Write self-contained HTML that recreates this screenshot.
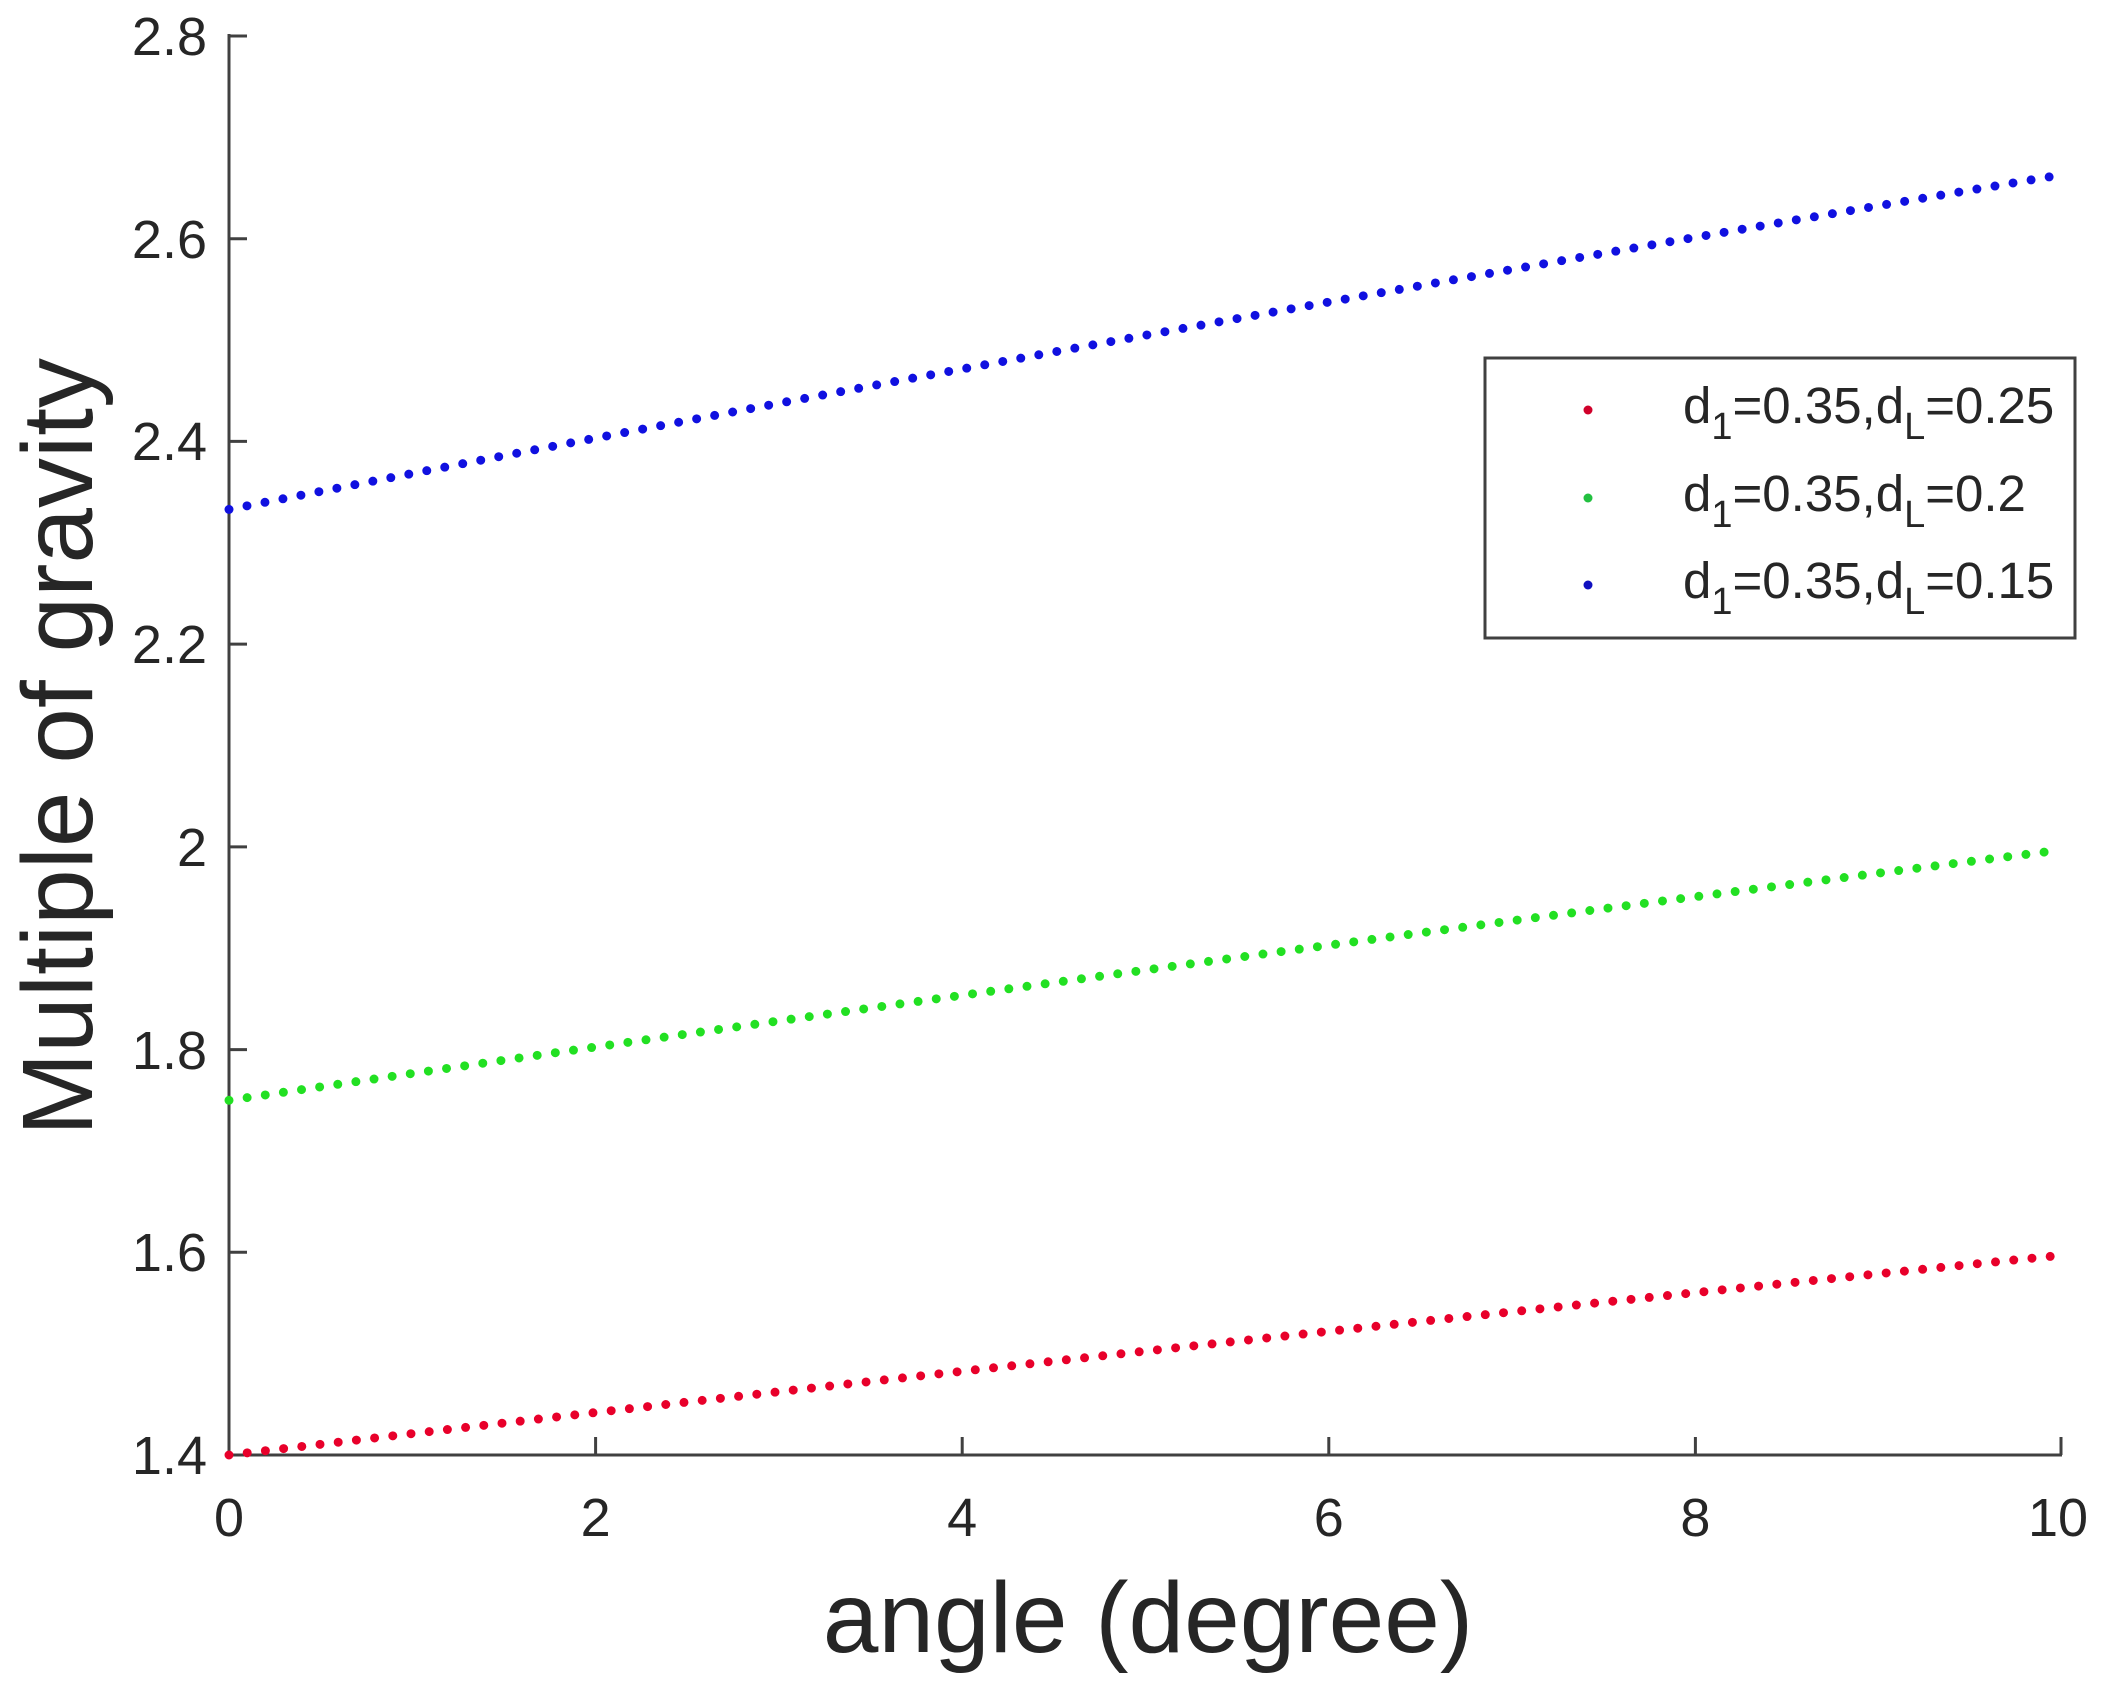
<!DOCTYPE html>
<html><head><meta charset="utf-8"><style>
html,body{margin:0;padding:0;background:#fff;}
svg{display:block;}
text{font-family:"Liberation Sans",Arial,sans-serif;fill:#262626;}
</style></head><body>
<svg width="2103" height="1682" viewBox="0 0 2103 1682" xmlns="http://www.w3.org/2000/svg">
<rect width="2103" height="1682" fill="#fff"/>
<g stroke="#404040" stroke-width="3" fill="none">
<line x1="229" y1="34" x2="229" y2="1456"/>
<line x1="228" y1="1455" x2="2062" y2="1455"/>
<line x1="229" y1="36" x2="247" y2="36"/>
<line x1="229" y1="238.7" x2="247" y2="238.7"/>
<line x1="229" y1="441.4" x2="247" y2="441.4"/>
<line x1="229" y1="644.1" x2="247" y2="644.1"/>
<line x1="229" y1="846.9" x2="247" y2="846.9"/>
<line x1="229" y1="1049.6" x2="247" y2="1049.6"/>
<line x1="229" y1="1252.3" x2="247" y2="1252.3"/>
<line x1="595.6" y1="1455" x2="595.6" y2="1437"/>
<line x1="962.2" y1="1455" x2="962.2" y2="1437"/>
<line x1="1328.8" y1="1455" x2="1328.8" y2="1437"/>
<line x1="1695.4" y1="1455" x2="1695.4" y2="1437"/>
<line x1="2061" y1="1455" x2="2061" y2="1437"/>
</g>
<g font-size="54" text-anchor="end">
<text x="207" y="55">2.8</text>
<text x="207" y="258">2.6</text>
<text x="207" y="460">2.4</text>
<text x="207" y="663">2.2</text>
<text x="207" y="866">2</text>
<text x="207" y="1069">1.8</text>
<text x="207" y="1271">1.6</text>
<text x="207" y="1474">1.4</text>
</g>
<g font-size="54" text-anchor="middle">
<text x="229" y="1536">0</text>
<text x="595.6" y="1536">2</text>
<text x="962.2" y="1536">4</text>
<text x="1328.8" y="1536">6</text>
<text x="1695.4" y="1536">8</text>
<text x="2058" y="1536">10</text>
</g>
<text x="1148" y="1652" font-size="100" text-anchor="middle">angle (degree)</text>
<text transform="translate(92,747) rotate(-90)" font-size="100" text-anchor="middle">Multiple of gravity</text>
<g fill="none" stroke-width="9" stroke-linecap="round" stroke-dasharray="0 18.32">
<path d="M229,1455 Q1145,1347.2 2061,1255.3" stroke="#e8002a"/>
<path d="M229,1100.3 Q1145,965 2061,850" stroke="#22e022"/>
<path d="M229,509.4 Q1145,328.5 2061,174.9" stroke="#1010e0"/>
</g>
<rect x="1485" y="358" width="590" height="280" fill="#fff" stroke="#404040" stroke-width="3"/>
<circle cx="1588" cy="410" r="4.5" fill="#d0002a"/>
<circle cx="1588" cy="498" r="4.5" fill="#22c040"/>
<circle cx="1588" cy="585" r="4.5" fill="#1010c0"/>
<g font-size="51">
<text x="1683" y="423">d<tspan font-size="38" dy="16">1</tspan><tspan dy="-16">=0.35,d</tspan><tspan font-size="38" dy="16">L</tspan><tspan dy="-16">=0.25</tspan></text>
<text x="1683" y="511">d<tspan font-size="38" dy="16">1</tspan><tspan dy="-16">=0.35,d</tspan><tspan font-size="38" dy="16">L</tspan><tspan dy="-16">=0.2</tspan></text>
<text x="1683" y="598">d<tspan font-size="38" dy="16">1</tspan><tspan dy="-16">=0.35,d</tspan><tspan font-size="38" dy="16">L</tspan><tspan dy="-16">=0.15</tspan></text>
</g>
</svg>
</body></html>
